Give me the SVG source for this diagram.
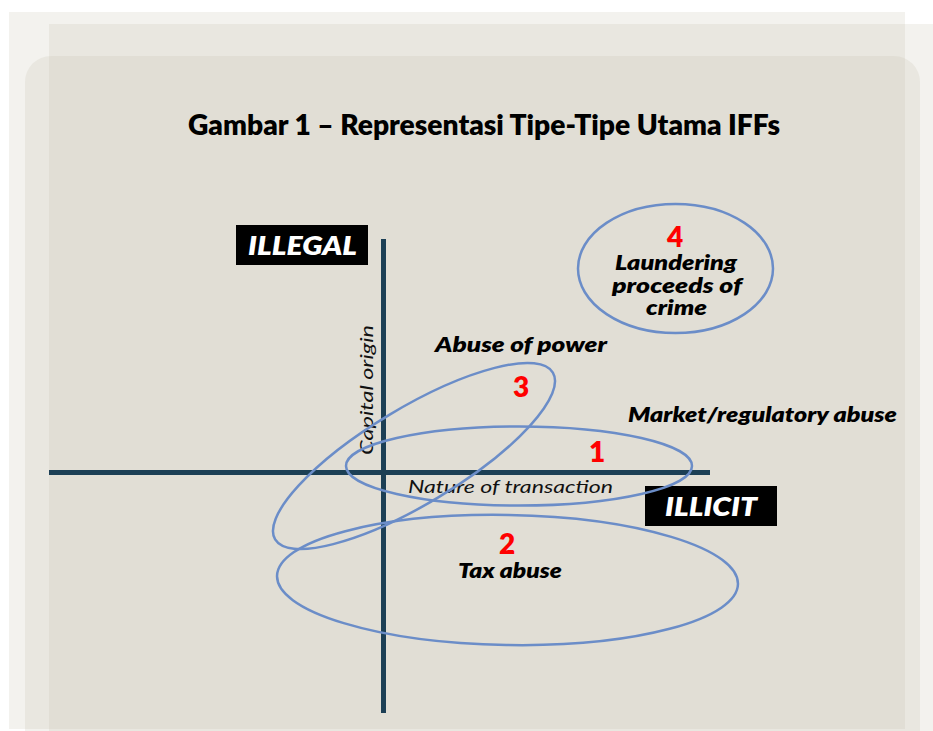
<svg xmlns="http://www.w3.org/2000/svg" width="933" height="731" viewBox="0 0 933 731">
  <style>
    .panel { fill: #c3beaa; fill-opacity: 0.2; }
    .axis { stroke: #1c3f55; stroke-width: 5; fill: none; }
    .ring { fill: none; stroke: #6b8dc8; stroke-width: 2.5; }
    .lbl { font-family: Lato, "Noto Sans", "Liberation Sans", sans-serif; font-weight: 800; font-style: italic; fill: #000; }
    .num { font-family: Lato, "Noto Sans", "Liberation Sans", sans-serif; font-weight: 800; fill: #ff0000; font-size: 28px; text-anchor: middle; }
    .tag { font-family: Lato, "Noto Sans", "Liberation Sans", sans-serif; font-weight: 800; font-style: italic; fill: #fff; font-size: 26px; }
    .axlbl { font-family: Lato, "Noto Sans", "Liberation Sans", sans-serif; font-weight: 400; font-style: italic; fill: #111; font-size: 18px; }
  </style>

  <!-- layered page backdrop -->
  <rect width="933" height="731" fill="#ffffff"/>
  <rect class="panel" x="9" y="12" width="896" height="717"/>
  <rect class="panel" x="49" y="24" width="884" height="720"/>
  <rect class="panel" x="25" y="56" width="895" height="700" rx="26" ry="26"/>

  <!-- title -->
  <text x="188" y="135" font-family="Lato, 'Noto Sans', 'Liberation Sans', sans-serif" font-weight="800" font-size="28" fill="#000" textLength="592" lengthAdjust="spacingAndGlyphs">Gambar 1 – Representasi Tipe-Tipe Utama IFFs</text>

  <!-- axes -->
  <g id="axes">
    <line class="axis" x1="49" y1="472.5" x2="710" y2="472.5"/>
    <line class="axis" x1="383.5" y1="239" x2="383.5" y2="713"/>
    <text class="axlbl" transform="translate(373 455) rotate(-90)" textLength="130" lengthAdjust="spacingAndGlyphs">Capital origin</text>
    <text class="axlbl" x="408" y="493" textLength="205" lengthAdjust="spacingAndGlyphs">Nature of transaction</text>
  </g>

  <g id="illegal">
    <rect x="236" y="225" width="132" height="40" fill="#000"/>
    <text class="tag" x="248" y="255" textLength="109" lengthAdjust="spacingAndGlyphs">ILLEGAL</text>
  </g>

  <g id="illicit">
    <rect x="645" y="486" width="132" height="40" fill="#000"/>
    <text class="tag" x="665" y="516" textLength="92" lengthAdjust="spacingAndGlyphs">ILLICIT</text>
  </g>

  <!-- 1: market / regulatory abuse -->
  <g id="type-1">
    <ellipse class="ring" cx="519" cy="466" rx="173" ry="39.5"/>
    <text class="num" x="597" y="462">1</text>
    <text class="lbl" x="628" y="422" font-size="21" textLength="269" lengthAdjust="spacingAndGlyphs">Market/regulatory abuse</text>
  </g>

  <!-- 2: tax abuse -->
  <g id="type-2">
    <ellipse class="ring" cx="507.5" cy="580" rx="230.5" ry="65" transform="rotate(1 507.5 580)"/>
    <text class="num" x="507" y="554">2</text>
    <text class="lbl" x="458" y="578" font-size="20" textLength="104" lengthAdjust="spacingAndGlyphs">Tax abuse</text>
  </g>

  <!-- 3: abuse of power -->
  <g id="type-3">
    <ellipse class="ring" cx="414" cy="456" rx="162" ry="48" transform="rotate(-31 414 456)"/>
    <text class="num" x="521" y="397" font-size="31">3</text>
    <text class="lbl" x="435" y="352" font-size="21" textLength="172" lengthAdjust="spacingAndGlyphs">Abuse of power</text>
  </g>

  <!-- 4: laundering proceeds of crime -->
  <g id="type-4">
    <ellipse class="ring" cx="675.5" cy="268.5" rx="97.5" ry="64.5"/>
    <text class="num" x="675" y="247">4</text>
    <text class="lbl" x="615" y="270" font-size="20" textLength="122" lengthAdjust="spacingAndGlyphs">Laundering</text>
    <text class="lbl" x="612" y="293" font-size="20" textLength="130" lengthAdjust="spacingAndGlyphs">proceeds of</text>
    <text class="lbl" x="646" y="315" font-size="20" textLength="61" lengthAdjust="spacingAndGlyphs">crime</text>
  </g>
</svg>
